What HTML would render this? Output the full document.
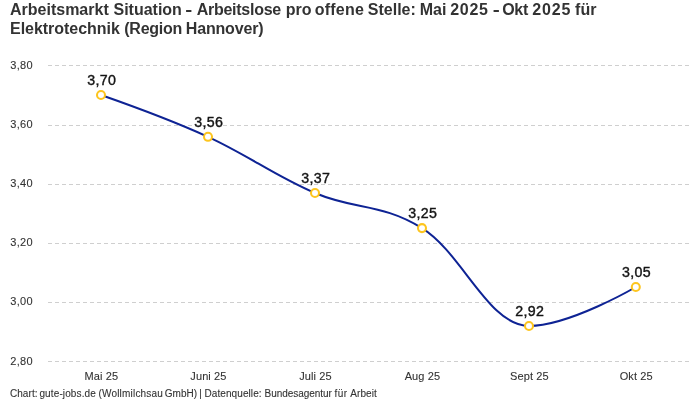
<!DOCTYPE html>
<html lang="de">
<head>
<meta charset="utf-8">
<title>Arbeitsmarkt Situation - Arbeitslose pro offene Stelle</title>
<style>
  html, body { margin: 0; padding: 0; background: #ffffff; }
  body { width: 700px; height: 400px; overflow: hidden; position: relative;
         font-family: "Liberation Sans", sans-serif; }
  .wrap { position: absolute; left: 0; top: 0; width: 700px; height: 400px; will-change: transform; }
  svg { position: absolute; left: 0; top: 0; display: block; }
  svg text { font-family: "Liberation Sans", sans-serif; white-space: pre; }
  .title text { font-size: 16px; font-weight: bold; fill: #333333; }
  .grid line { stroke: #cfcfcf; stroke-width: 1; stroke-dasharray: 4 3; shape-rendering: crispEdges; }
  .ylab text { font-size: 11px; fill: #333333; letter-spacing: 0.3px; stroke: #333333; stroke-width: 0.1px; }
  .xlab text { font-size: 11px; fill: #333333; text-anchor: middle; letter-spacing: 0.1px; stroke: #333333; stroke-width: 0.1px; }
  .vlab text { font-size: 14.2px; fill: #141414; text-anchor: middle; letter-spacing: 0.35px; stroke: #141414; stroke-width: 0.4px; }
  .pts circle { fill: #ffffff; stroke: #fdc51e; stroke-width: 2.05; }
  .foot { font-size: 10px; fill: #333333; stroke: #333333; stroke-width: 0.1px; }
</style>
</head>
<body>
<div class="wrap">
<svg width="700" height="400" viewBox="0 0 700 400" role="img" aria-label="Liniendiagramm Arbeitslose pro offene Stelle">
  <g class="title">
    <text y="14.8"><tspan x="10.00">Arbeitsmarkt</tspan> <tspan x="113.46">Situation</tspan> <tspan x="185.25" textLength="7.0" lengthAdjust="spacingAndGlyphs">-</tspan> <tspan x="196.63" style="letter-spacing:-0.250px">Arbeitslose</tspan> <tspan x="285.73">pro</tspan> <tspan x="314.66" style="letter-spacing:0.260px">offene</tspan> <tspan x="367.82">Stelle:</tspan> <tspan x="419.68">Mai</tspan> <tspan x="450.21" style="letter-spacing:0.700px">2025</tspan> <tspan x="492.76" textLength="7.0" lengthAdjust="spacingAndGlyphs">-</tspan> <tspan x="502.24" style="letter-spacing:-0.350px">Okt</tspan> <tspan x="532.36" style="letter-spacing:0.800px">2025</tspan> <tspan x="575.11">für</tspan></text>
    <text y="33.8"><tspan x="10.00" style="letter-spacing:-0.030px">Elektrotechnik</tspan> <tspan x="124.32" style="letter-spacing:-0.270px">(Region</tspan> <tspan x="185.82" style="letter-spacing:-0.175px">Hannover)</tspan></text>
  </g>
  <g class="grid">
    <line x1="48" x2="689" y1="65.5" y2="65.5"/>
    <line x1="48" x2="689" y1="125.5" y2="125.5"/>
    <line x1="48" x2="689" y1="184.5" y2="184.5"/>
    <line x1="48" x2="689" y1="243.5" y2="243.5"/>
    <line x1="48" x2="689" y1="302.5" y2="302.5"/>
    <line x1="48" x2="689" y1="361.5" y2="361.5"/>
  </g>
  <g class="ylab">
    <text x="10.3" y="68.60">3,80</text>
    <text x="10.3" y="127.80">3,60</text>
    <text x="10.3" y="187.00">3,40</text>
    <text x="10.3" y="246.20">3,20</text>
    <text x="10.3" y="305.40">3,00</text>
    <text x="10.3" y="364.60">2,80</text>
  </g>
  <g class="xlab">
    <text x="101.40" y="380.1">Mai 25</text>
    <text x="208.40" y="380.1">Juni 25</text>
    <text x="315.40" y="380.1">Juli 25</text>
    <text x="422.40" y="380.1">Aug 25</text>
    <text x="529.40" y="380.1">Sept 25</text>
    <text x="636.20" y="380.1">Okt 25</text>
  </g>
  <path d="M101.00,95.00C101.00,95.00,167.62,118.34,208.00,136.84C248.38,155.34,274.62,175.81,315.00,193.03C355.38,210.25,381.62,203.02,422.00,228.10C462.38,253.18,488.62,325.93,529.00,325.93C569.30,325.93,635.80,287.00,635.80,287.00" fill="none" stroke="#0e2394" stroke-width="2.0" stroke-linecap="round" stroke-linejoin="round"/>
  <g class="pts">
    <circle cx="101.00" cy="95.00" r="4"/>
    <circle cx="208.00" cy="136.84" r="4"/>
    <circle cx="315.00" cy="193.03" r="4"/>
    <circle cx="422.00" cy="228.10" r="4"/>
    <circle cx="529.00" cy="325.93" r="4"/>
    <circle cx="635.80" cy="287.00" r="4"/>
  </g>
  <g class="vlab">
    <text x="101.75" y="85">3,70</text>
    <text x="208.75" y="127">3,56</text>
    <text x="315.75" y="183">3,37</text>
    <text x="422.75" y="218">3,25</text>
    <text x="529.75" y="316">2,92</text>
    <text x="636.55" y="277">3,05</text>
  </g>
  <text class="foot" y="396.7"><tspan x="9.89" style="letter-spacing:0.100px">Chart:</tspan> <tspan x="39.41" style="letter-spacing:0.127px">gute-jobs.de</tspan> <tspan x="98.43" style="letter-spacing:0.200px">(Wollmilchsau</tspan> <tspan x="164.68" style="letter-spacing:0.050px">GmbH)</tspan> <tspan x="199.29">|</tspan> <tspan x="204.48" style="letter-spacing:0.090px">Datenquelle:</tspan> <tspan x="264.50" style="letter-spacing:-0.040px">Bundesagentur</tspan> <tspan x="334.45" style="letter-spacing:0.500px">für</tspan> <tspan x="350.25" style="letter-spacing:0.080px">Arbeit</tspan></text>
</svg>
</div>
</body>
</html>
